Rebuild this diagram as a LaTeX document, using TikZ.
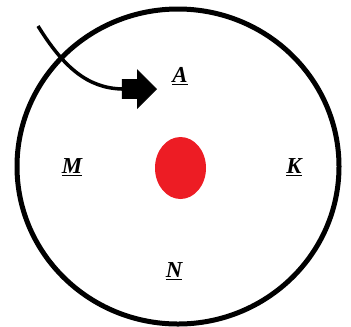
\documentclass[tikz,border=0pt]{standalone}
\usepackage{fontspec}
\setmainfont{Liberation Serif}
\usepackage{xcolor}
\usetikzlibrary{shapes.arrows,calc}

\definecolor{paintred}{RGB}{237,28,36}

\tikzset{
    region/.style={font=\fontsize{13}{15}\selectfont\bfseries\itshape, inner sep=0pt, anchor=base},
    pointer/.style={single arrow, fill=black, draw=black, line width=0.5pt,
        inner xsep=0pt, inner ysep=0.18cm,
        minimum width=0.74cm, minimum height=0.68cm, single arrow head extend=0.19cm}
}

\begin{document}
\begin{tikzpicture}[x=0.02cm, y=-0.02cm]
        % Frame (pixel grid of the picture)
        \useasboundingbox (0,0) rectangle (351,326);

        % Outer boundary
        \draw[line width=0.1cm] (178,166.5) ellipse [x radius=161, y radius=157.5];

        % Red core
        \fill[paintred] (180.5,168) ellipse [x radius=25.5, y radius=31];

        % Labels
        \node[region] (labA) at (180,82) {\underline{A}};
        \node[region] (labM) at (72,173) {\underline{M}};
        \node[region] (labK) at (294,173) {\underline{K}};
        \node[region] (labN) at (174,277) {\underline{N}};

        % Incoming arrow
        \coordinate (start) at (38,26);
        \node[pointer, anchor=tip] (head) at (157,89) {};
        \draw[line width=0.07cm] (start) .. controls (64,68) and (88,88) .. (head.tail);
    \end{tikzpicture}
\end{document}
